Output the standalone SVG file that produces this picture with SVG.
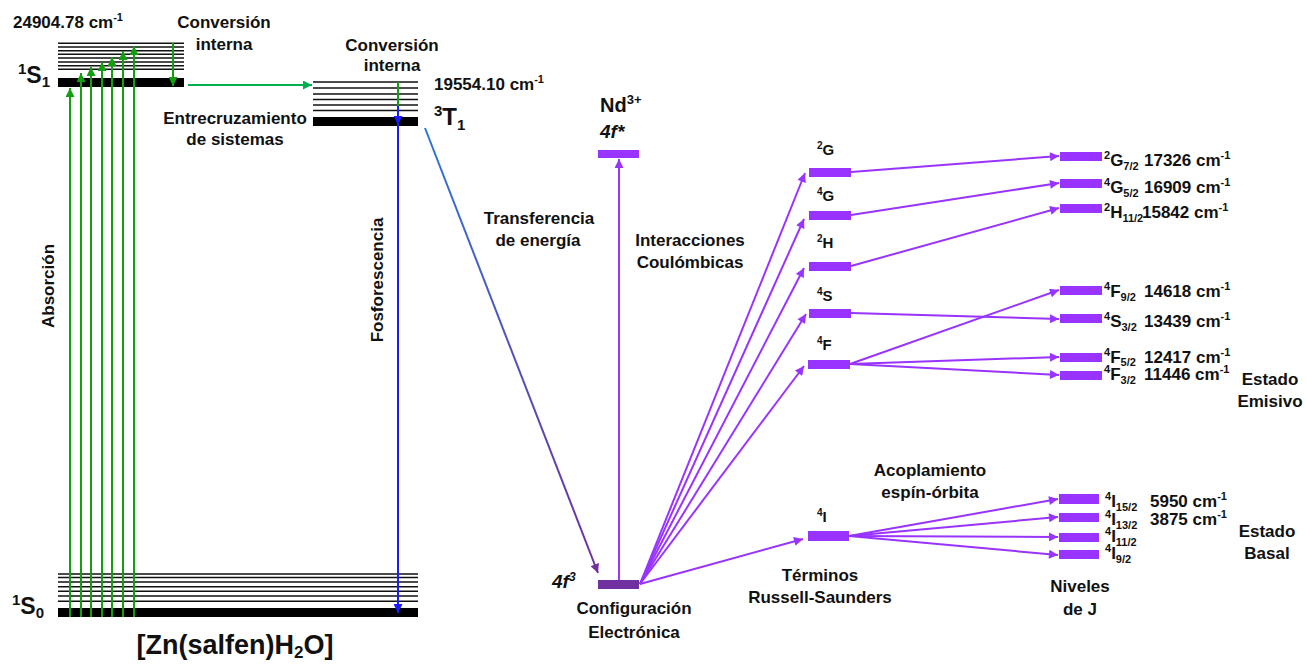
<svg xmlns="http://www.w3.org/2000/svg" width="1307" height="666" viewBox="0 0 1307 666">
  <style>
    text { font-family: "Liberation Sans", Arial, sans-serif; font-weight: bold; fill: #111; }
    .t17 { font-size: 17px; }
    .t15 { font-size: 15px; }
    .mid { text-anchor: middle; }
    .thin { stroke: #111; stroke-width: 1.6; }
    .thick { fill: #000; }
    .pbar { fill: #9933FF; }
    .parr { stroke: #9933FF; stroke-width: 2; fill: none; marker-end: url(#ah-purple); }
    .garr { stroke: #10A010; stroke-width: 2; fill: none; marker-end: url(#ah-green); }
  </style>
  <defs>
    <marker id="ah-green" viewBox="0 0 10 10" refX="10" refY="5" markerWidth="10" markerHeight="9" markerUnits="userSpaceOnUse" orient="auto">
      <path d="M0,0 L10,5 L0,10 z" fill="#10A010"/>
    </marker>
    <marker id="ah-green2" viewBox="0 0 10 10" refX="10" refY="5" markerWidth="10" markerHeight="9" markerUnits="userSpaceOnUse" orient="auto">
      <path d="M0,0 L10,5 L0,10 z" fill="#00B050"/>
    </marker>
    <marker id="ah-blue" viewBox="0 0 10 10" refX="10" refY="5" markerWidth="10" markerHeight="9" markerUnits="userSpaceOnUse" orient="auto">
      <path d="M0,0 L10,5 L0,10 z" fill="#1A1AFF"/>
    </marker>
    <marker id="ah-purple" viewBox="0 0 10 10" refX="10" refY="5" markerWidth="11" markerHeight="9" markerUnits="userSpaceOnUse" orient="auto">
      <path d="M0,0 L10,5 L0,10 z" fill="#9933FF"/>
    </marker>
    <marker id="ah-dpurple" viewBox="0 0 10 10" refX="10" refY="5" markerWidth="11" markerHeight="9" markerUnits="userSpaceOnUse" orient="auto">
      <path d="M0,0 L10,5 L0,10 z" fill="#7030A0"/>
    </marker>
    <linearGradient id="transfer" gradientUnits="userSpaceOnUse" x1="425" y1="128" x2="598" y2="573">
      <stop offset="0" stop-color="#2E75D6"/>
      <stop offset="1" stop-color="#7030A0"/>
    </linearGradient>
  </defs>

  <!-- Singlet excited state S1 -->
  <g id="S1">
    <g class="thin">
      <line x1="58" y1="43.3" x2="184" y2="43.3"/>
      <line x1="58" y1="47" x2="184" y2="47"/>
      <line x1="58" y1="50.7" x2="184" y2="50.7"/>
      <line x1="58" y1="54.3" x2="184" y2="54.3"/>
      <line x1="58" y1="58" x2="184" y2="58"/>
      <line x1="58" y1="62" x2="184" y2="62"/>
      <line x1="58" y1="65.7" x2="184" y2="65.7"/>
      <line x1="58" y1="69.3" x2="184" y2="69.3"/>
    </g>
    <rect class="thick" x="58" y="78" width="126" height="9"/>
    <text x="18" y="83" style="font-size:23px"><tspan style="font-size:15px" dy="-9">1</tspan><tspan dy="9">S</tspan><tspan style="font-size:15px" dy="4">1</tspan></text>
    <text class="t17" x="13" y="28">24904.78 cm<tspan style="font-size:11px" dy="-7">-1</tspan></text>
  </g>

  <!-- Triplet state T1 -->
  <g id="T1">
    <g class="thin">
      <line x1="313" y1="82" x2="418" y2="82"/>
      <line x1="313" y1="88" x2="418" y2="88"/>
      <line x1="313" y1="94" x2="418" y2="94"/>
      <line x1="313" y1="99.5" x2="418" y2="99.5"/>
      <line x1="313" y1="105" x2="418" y2="105"/>
      <line x1="313" y1="110.5" x2="418" y2="110.5"/>
    </g>
    <rect class="thick" x="313" y="117" width="105" height="9"/>
    <text class="t17" x="434" y="90">19554.10 cm<tspan style="font-size:11px" dy="-7">-1</tspan></text>
    <text x="434" y="125" style="font-size:24px"><tspan style="font-size:15px" dy="-9">3</tspan><tspan dy="9">T</tspan><tspan style="font-size:15px" dy="5">1</tspan></text>
  </g>

  <!-- Ground state S0 -->
  <g id="S0">
    <g class="thin">
      <line x1="58" y1="574" x2="418" y2="574"/>
      <line x1="58" y1="577.5" x2="418" y2="577.5"/>
      <line x1="58" y1="582" x2="418" y2="582"/>
      <line x1="58" y1="586.7" x2="418" y2="586.7"/>
      <line x1="58" y1="591.3" x2="418" y2="591.3"/>
      <line x1="58" y1="596" x2="418" y2="596"/>
      <line x1="58" y1="601.3" x2="418" y2="601.3"/>
    </g>
    <rect class="thick" x="58" y="608" width="360" height="9"/>
    <text x="12" y="614" style="font-size:23px"><tspan style="font-size:15px" dy="-9">1</tspan><tspan dy="9">S</tspan><tspan style="font-size:15px" dy="4">0</tspan></text>
    <text class="mid" x="235" y="654" style="font-size:27px">[Zn(salfen)H<tspan style="font-size:17px" dy="4">2</tspan><tspan dy="-4">O]</tspan></text>
  </g>

  <!-- Nd3+ configurations -->
  <g id="Nd-4fstar">
    <rect class="pbar" x="598" y="150" width="41" height="8"/>
    <text x="600" y="112" style="font-size:20px">Nd<tspan style="font-size:13px" dy="-8">3+</tspan></text>
    <text x="600" y="138" style="font-size:19px;font-style:italic">4f*</text>
  </g>
  <g id="Nd-4f3">
    <rect x="598" y="580" width="41" height="9" fill="#7030A0"/>
    <text x="552" y="588" style="font-size:19px;font-style:italic">4f<tspan style="font-size:12px" dy="-7">3</tspan></text>
    <text class="t17 mid" x="634" y="614">Configuración</text>
    <text class="t17 mid" x="634" y="638">Electrónica</text>
  </g>

  <!-- Russell-Saunders terms -->
  <g id="term-2G">
    <rect class="pbar" x="809" y="168" width="42" height="9"/>
    <text class="t15" x="817" y="155"><tspan style="font-size:10px" dy="-6">2</tspan><tspan dy="6">G</tspan></text>
  </g>
  <g id="term-4G">
    <rect class="pbar" x="809" y="211" width="42" height="9"/>
    <text class="t15" x="817" y="201"><tspan style="font-size:10px" dy="-6">4</tspan><tspan dy="6">G</tspan></text>
  </g>
  <g id="term-2H">
    <rect class="pbar" x="809" y="262" width="42" height="9"/>
    <text class="t15" x="817" y="248"><tspan style="font-size:10px" dy="-6">2</tspan><tspan dy="6">H</tspan></text>
  </g>
  <g id="term-4S">
    <rect class="pbar" x="809" y="309" width="42" height="9"/>
    <text class="t15" x="817" y="301"><tspan style="font-size:10px" dy="-6">4</tspan><tspan dy="6">S</tspan></text>
  </g>
  <g id="term-4F">
    <rect class="pbar" x="808" y="360" width="42" height="9"/>
    <text class="t15" x="817" y="350"><tspan style="font-size:10px" dy="-6">4</tspan><tspan dy="6">F</tspan></text>
  </g>
  <g id="term-4I">
    <rect class="pbar" x="808" y="531" width="41" height="10"/>
    <text class="t15" x="817" y="522"><tspan style="font-size:10px" dy="-6">4</tspan><tspan dy="6">I</tspan></text>
  </g>

  <!-- J levels -->
  <g id="J-2G72">
    <rect class="pbar" x="1060" y="152" width="42" height="9"/>
    <text class="t17" x="1104" y="166"><tspan style="font-size:11px" dy="-7">2</tspan><tspan dy="7">G</tspan><tspan style="font-size:11px" dy="4">7/2</tspan></text>
    <text class="t17" x="1144" y="166">17326 cm<tspan style="font-size:11px" dy="-7">-1</tspan></text>
  </g>
  <g id="J-4G52">
    <rect class="pbar" x="1060" y="179" width="42" height="9"/>
    <text class="t17" x="1104" y="193"><tspan style="font-size:11px" dy="-7">4</tspan><tspan dy="7">G</tspan><tspan style="font-size:11px" dy="4">5/2</tspan></text>
    <text class="t17" x="1144" y="193">16909 cm<tspan style="font-size:11px" dy="-7">-1</tspan></text>
  </g>
  <g id="J-2H112">
    <rect class="pbar" x="1060" y="204" width="42" height="9"/>
    <text class="t17" x="1104" y="218"><tspan style="font-size:11px" dy="-7">2</tspan><tspan dy="7">H</tspan><tspan style="font-size:11px" dy="4">11/2</tspan></text>
    <text class="t17" x="1142" y="218">15842 cm<tspan style="font-size:11px" dy="-7">-1</tspan></text>
  </g>
  <g id="J-4F92">
    <rect class="pbar" x="1060" y="286" width="42" height="9"/>
    <text class="t17" x="1104" y="297"><tspan style="font-size:11px" dy="-7">4</tspan><tspan dy="7">F</tspan><tspan style="font-size:11px" dy="4">9/2</tspan></text>
    <text class="t17" x="1144" y="297">14618 cm<tspan style="font-size:11px" dy="-7">-1</tspan></text>
  </g>
  <g id="J-4S32">
    <rect class="pbar" x="1060" y="314" width="42" height="9"/>
    <text class="t17" x="1104" y="327"><tspan style="font-size:11px" dy="-7">4</tspan><tspan dy="7">S</tspan><tspan style="font-size:11px" dy="4">3/2</tspan></text>
    <text class="t17" x="1144" y="327">13439 cm<tspan style="font-size:11px" dy="-7">-1</tspan></text>
  </g>
  <g id="J-4F52">
    <rect class="pbar" x="1060" y="353" width="42" height="9"/>
    <text class="t17" x="1104" y="363"><tspan style="font-size:11px" dy="-7">4</tspan><tspan dy="7">F</tspan><tspan style="font-size:11px" dy="3">5/2</tspan></text>
    <text class="t17" x="1144" y="363">12417 cm<tspan style="font-size:11px" dy="-7">-1</tspan></text>
  </g>
  <g id="J-4F32">
    <rect class="pbar" x="1060" y="371" width="42" height="9"/>
    <text class="t17" x="1104" y="380"><tspan style="font-size:11px" dy="-7">4</tspan><tspan dy="7">F</tspan><tspan style="font-size:11px" dy="4">3/2</tspan></text>
    <text class="t17" x="1144" y="380">11446 cm<tspan style="font-size:11px" dy="-7">-1</tspan></text>
  </g>
  <g id="J-4I152">
    <rect class="pbar" x="1059" y="494" width="40" height="10"/>
    <text class="t17" x="1105" y="507"><tspan style="font-size:11px" dy="-7">4</tspan><tspan dy="7">I</tspan><tspan style="font-size:11px" dy="4">15/2</tspan></text>
    <text class="t17" x="1150" y="507">5950 cm<tspan style="font-size:11px" dy="-7">-1</tspan></text>
  </g>
  <g id="J-4I132">
    <rect class="pbar" x="1059" y="513" width="40" height="9"/>
    <text class="t17" x="1105" y="525"><tspan style="font-size:11px" dy="-7">4</tspan><tspan dy="7">I</tspan><tspan style="font-size:11px" dy="4">13/2</tspan></text>
    <text class="t17" x="1150" y="525">3875 cm<tspan style="font-size:11px" dy="-7">-1</tspan></text>
  </g>
  <g id="J-4I112">
    <rect class="pbar" x="1059" y="533" width="40" height="9"/>
    <text class="t17" x="1105" y="542"><tspan style="font-size:11px" dy="-7">4</tspan><tspan dy="7">I</tspan><tspan style="font-size:11px" dy="4">11/2</tspan></text>
  </g>
  <g id="J-4I92">
    <rect class="pbar" x="1059" y="550" width="40" height="9"/>
    <text class="t17" x="1105" y="559"><tspan style="font-size:11px" dy="-7">4</tspan><tspan dy="7">I</tspan><tspan style="font-size:11px" dy="4">9/2</tspan></text>
  </g>

  <!-- Process labels -->
  <g id="labels">
    <text class="t17 mid" x="224" y="28">Conversión</text>
    <text class="t17 mid" x="224" y="50">interna</text>
    <text class="t17 mid" x="392" y="51">Conversión</text>
    <text class="t17 mid" x="392" y="71">interna</text>
    <text class="t17 mid" x="235" y="124">Entrecruzamiento</text>
    <text class="t17 mid" x="235" y="145">de sistemas</text>
    <text class="t17 mid" transform="translate(54,286) rotate(-90)">Absorción</text>
    <text class="t17 mid" transform="translate(383,280) rotate(-90)">Fosforescencia</text>
    <text class="t17 mid" x="539" y="224">Transferencia</text>
    <text class="t17 mid" x="538" y="246">de energía</text>
    <text class="t17 mid" x="690" y="246">Interacciones</text>
    <text class="t17 mid" x="690" y="268">Coulómbicas</text>
    <text class="t17 mid" x="820" y="581">Términos</text>
    <text class="t17 mid" x="820" y="603">Russell-Saunders</text>
    <text class="t17 mid" x="930" y="476">Acoplamiento</text>
    <text class="t17 mid" x="930" y="498">espín-órbita</text>
    <text class="t17 mid" x="1080" y="592">Niveles</text>
    <text class="t17 mid" x="1080" y="615">de J</text>
    <text class="t17 mid" x="1270" y="385">Estado</text>
    <text class="t17 mid" x="1270" y="407">Emisivo</text>
    <text class="t17 mid" x="1267" y="537">Estado</text>
    <text class="t17 mid" x="1267" y="559">Basal</text>
  </g>

  <!-- Connectors -->
  <g id="connectors">
    <!-- absorption S0 -> S1 vibrational levels -->
    <line class="garr" x1="70" y1="617" x2="70" y2="88"/>
    <line class="garr" x1="81" y1="617" x2="81" y2="73"/>
    <line class="garr" x1="91" y1="617" x2="91" y2="67"/>
    <line class="garr" x1="102" y1="617" x2="102" y2="62"/>
    <line class="garr" x1="112" y1="617" x2="112" y2="57"/>
    <line class="garr" x1="123" y1="617" x2="123" y2="51"/>
    <line class="garr" x1="134" y1="617" x2="134" y2="46"/>
    <!-- internal conversion in S1 -->
    <line class="garr" x1="173" y1="43" x2="173" y2="86"/>
    <!-- intersystem crossing S1 -> T1 -->
    <line x1="188" y1="85" x2="312" y2="85" stroke="#00B050" stroke-width="2" marker-end="url(#ah-green2)"/>
    <!-- internal conversion in T1 -->
    <line x1="398" y1="82" x2="398" y2="106" stroke="#10A010" stroke-width="2"/>
    <line x1="398" y1="106" x2="398" y2="125" stroke="#1A1AFF" stroke-width="2" marker-end="url(#ah-blue)"/>
    <!-- phosphorescence T1 -> S0 -->
    <line x1="398" y1="125" x2="398" y2="613" stroke="#1A1AFF" stroke-width="2" marker-end="url(#ah-blue)"/>
    <!-- energy transfer T1 -> Nd 4f3 -->
    <path d="M425,128 L598,573" stroke="url(#transfer)" stroke-width="2" fill="none" marker-end="url(#ah-dpurple)"/>
    <!-- 4f3 -> 4f* -->
    <line class="parr" x1="619" y1="580" x2="619" y2="159"/>
    <!-- 4f3 -> terms -->
    <line class="parr" x1="640" y1="584" x2="805" y2="173"/>
    <line class="parr" x1="640" y1="584" x2="804" y2="219"/>
    <line class="parr" x1="640" y1="584" x2="804" y2="268"/>
    <line class="parr" x1="640" y1="584" x2="806" y2="314"/>
    <line class="parr" x1="640" y1="584" x2="804" y2="366"/>
    <line class="parr" x1="640" y1="584" x2="803" y2="539"/>
    <!-- terms -> J levels -->
    <line class="parr" x1="851" y1="172" x2="1059" y2="156"/>
    <line class="parr" x1="851" y1="215" x2="1059" y2="183"/>
    <line class="parr" x1="851" y1="266" x2="1059" y2="208"/>
    <line class="parr" x1="851" y1="313" x2="1059" y2="319"/>
    <line class="parr" x1="850" y1="364" x2="1059" y2="290"/>
    <line class="parr" x1="850" y1="364" x2="1059" y2="357"/>
    <line class="parr" x1="850" y1="364" x2="1059" y2="375"/>
    <line class="parr" x1="849" y1="536" x2="1058" y2="499"/>
    <line class="parr" x1="849" y1="536" x2="1058" y2="517"/>
    <line class="parr" x1="849" y1="536" x2="1058" y2="537"/>
    <line class="parr" x1="849" y1="536" x2="1058" y2="555"/>
  </g>
</svg>
